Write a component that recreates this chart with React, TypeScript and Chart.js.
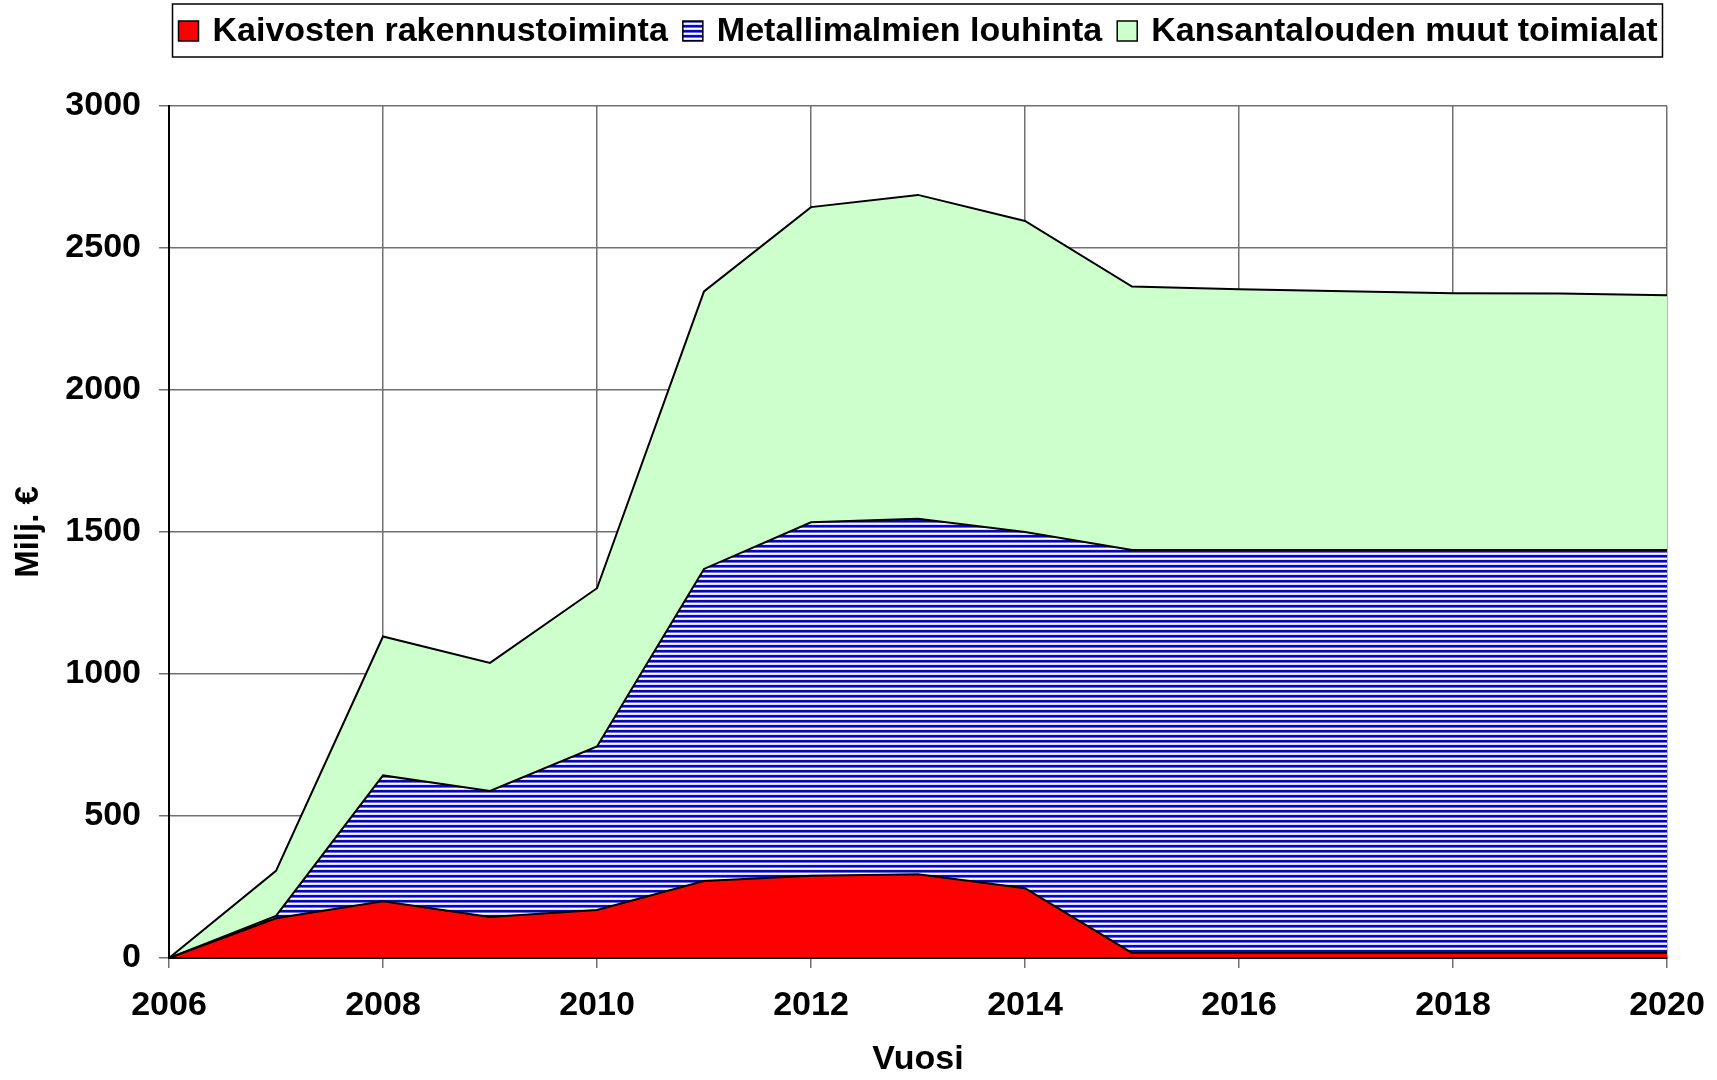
import React, { useEffect, useRef } from "react";
import { Chart, registerables } from "chart.js";

Chart.register(...registerables);

const years = [2006, 2007, 2008, 2009, 2010, 2011, 2012, 2013, 2014, 2015, 2016, 2017, 2018, 2019, 2020];
const kaivostenRakennus = [0, 140, 200, 144, 169, 271, 290, 295, 246, 18, 18, 18, 18, 18, 18];
const metallimalmienLouhinta = [0, 8, 443, 444, 576, 1099, 1244, 1252, 1254, 1419, 1419, 1419, 1419, 1419, 1419];
const muutToimialat = [0, 159, 489, 451, 557, 977, 1110, 1140, 1095, 927, 918, 911, 904, 903, 897];
const seriesLabels = ["Kaivosten rakennustoiminta", "Metallimalmien louhinta", "Kansantalouden muut toimialat"];
const xTitle = "Vuosi";
const yTitle = "Milj. €";

const FONT = '"Liberation Sans", Arial, sans-serif';

function makeHatch(): CanvasPattern | string {
  const c = document.createElement("canvas");
  c.width = 4;
  c.height = 5;
  const g = c.getContext("2d");
  if (!g) return "#3030d0";
  const rows = ["#0c0cb4", "#0000e0", "#6a6ad8", "#ffffff", "#dcdcf6"];
  rows.forEach((col, i) => {
    g.fillStyle = col;
    g.fillRect(0, i, 4, 1);
  });
  const p = g.createPattern(c, "repeat");
  return p || "#3030d0";
}

const legendPlugin = {
  id: "customLegend",
  afterDraw(chart: any) {
    const ctx = chart.ctx;
    const area = chart.chartArea;
    const ds = chart.data.datasets;
    ctx.save();
    ctx.font = `bold 34px ${FONT}`;
    const box = 20;
    const gap = 14;
    const sp = 15;
    const widths = ds.map((d: any) => ctx.measureText(d.label).width);
    const total = widths.reduce((a: number, w: number) => a + box + gap + w, 0) + sp * (ds.length - 1);
    let x = (area.left + area.right) / 2 - total / 2;
    const cy = 31;
    ctx.lineWidth = 1.5;
    ctx.strokeStyle = "#000";
    ctx.strokeRect(x - 6, 4, total + 11, 53);
    ctx.textBaseline = "middle";
    ctx.textAlign = "left";
    ds.forEach((d: any, i: number) => {
      ctx.fillStyle = d.backgroundColor;
      ctx.fillRect(x, cy - box / 2, box, box);
      ctx.lineWidth = 1.5;
      ctx.strokeStyle = "#000";
      ctx.strokeRect(x, cy - box / 2, box, box);
      ctx.fillStyle = "#000";
      ctx.fillText(d.label, x + box + gap, cy + 1);
      x += box + gap + widths[i] + sp;
    });
    ctx.restore();
  },
};

const axisLinePlugin = {
  id: "axisLines",
  afterDatasetsDraw(chart: any) {
    const ctx = chart.ctx;
    const a = chart.chartArea;
    ctx.save();
    ctx.strokeStyle = "#000";
    ctx.lineWidth = 2;
    ctx.beginPath();
    ctx.moveTo(a.left, a.top);
    ctx.lineTo(a.left, a.bottom);
    ctx.lineTo(a.right, a.bottom);
    ctx.stroke();
    ctx.restore();
  },
};

export default function App() {
  const ref = useRef<HTMLCanvasElement | null>(null);

  useEffect(() => {
    if (!ref.current) return;
    const hatch = makeHatch();
    const toPts = (arr: number[]) => arr.map((v, i) => ({ x: years[i], y: v }));
    const chart = new Chart(ref.current, {
      type: "line",
      data: {
        datasets: [
          {
            label: seriesLabels[0],
            data: toPts(kaivostenRakennus),
            backgroundColor: "#ff0000",
            borderColor: "#000000",
            borderWidth: 2,
            fill: "origin",
            pointRadius: 0,
            tension: 0,
          },
          {
            label: seriesLabels[1],
            data: toPts(metallimalmienLouhinta),
            backgroundColor: hatch as any,
            borderColor: "#000000",
            borderWidth: 2,
            fill: "-1",
            pointRadius: 0,
            tension: 0,
          },
          {
            label: seriesLabels[2],
            data: toPts(muutToimialat),
            backgroundColor: "#ccffcc",
            borderColor: "#000000",
            borderWidth: 2,
            fill: "-1",
            pointRadius: 0,
            tension: 0,
          },
        ],
      },
      options: {
        animation: false,
        responsive: true,
        maintainAspectRatio: false,
        layout: { padding: { left: 7, right: 50, top: 106, bottom: 0 } },
        plugins: {
          legend: { display: false },
          tooltip: { enabled: false },
        },
        scales: {
          x: {
            type: "linear",
            min: 2006,
            max: 2020,
            afterFit: (s: any) => {
              s.height = 122;
              s.paddingLeft = 0;
              s.paddingRight = 0;
            },
            ticks: {
              stepSize: 2,
              padding: 17,
              color: "#000",
              font: { family: FONT, size: 34, weight: "bold" },
              callback: (v: any) => String(v),
              maxRotation: 0,
            },
            grid: { color: "#707070", lineWidth: 1.5, tickLength: 10 },
            border: { color: "#000", width: 2 },
            title: {
              display: true,
              text: xTitle,
              color: "#000",
              font: { family: FONT, size: 34, weight: "bold" },
              padding: { top: 0, bottom: 0 },
            },
          },
          y: {
            stacked: true,
            min: 0,
            max: 3000,
            afterFit: (s: any) => {
              s.width = 162;
            },
            ticks: {
              stepSize: 500,
              padding: 18,
              color: "#000",
              font: { family: FONT, size: 34, weight: "bold" },
              callback: (v: any) => String(v),
            },
            grid: { color: "#707070", lineWidth: 1.5, tickLength: 10 },
            border: { color: "#000", width: 2 },
            title: {
              display: true,
              text: yTitle,
              color: "#000",
              font: { family: FONT, size: 33, weight: "bold" },
              padding: { top: 2, bottom: 4 },
            },
          },
        },
      },
      plugins: [legendPlugin, axisLinePlugin],
    } as any);
    return () => chart.destroy();
  }, []);

  return (
    <div style={{ position: "absolute", left: 0, top: 0, width: 1717, height: 1080, background: "#fff" }}>
      <canvas ref={ref} />
    </div>
  );
}
